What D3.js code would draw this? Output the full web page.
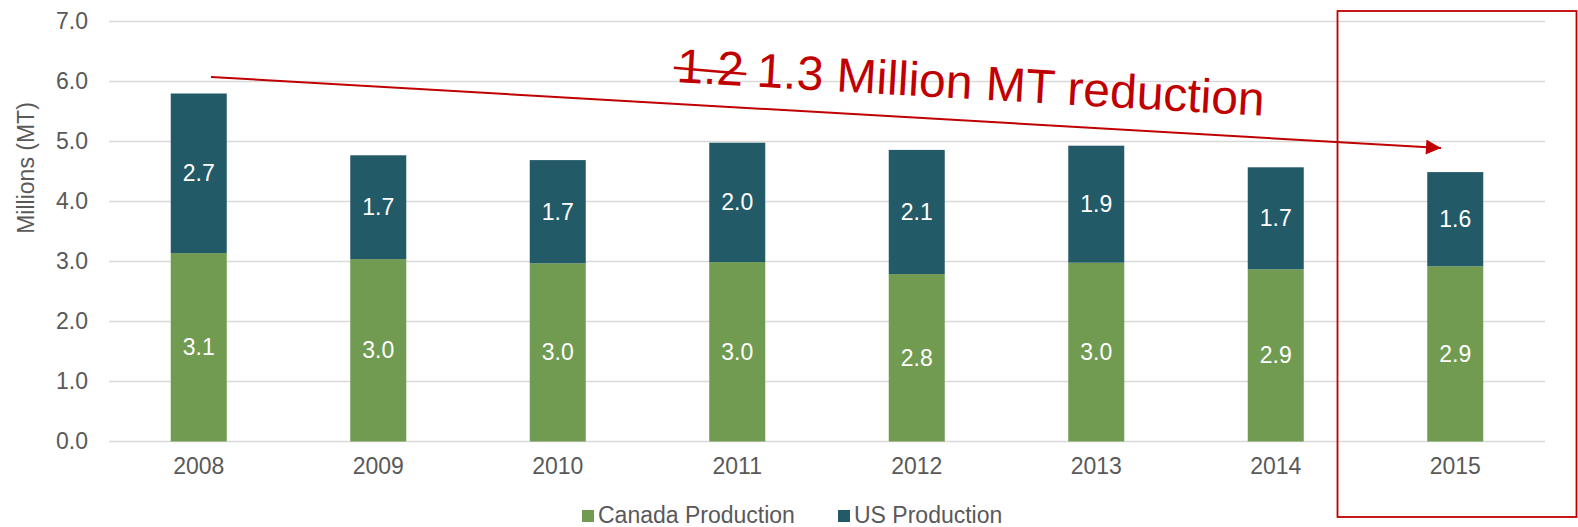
<!DOCTYPE html>
<html>
<head>
<meta charset="utf-8">
<script src="https://cdn.jsdelivr.net/npm/d3@7"></script>
<style>
  html, body { margin: 0; padding: 0; background: #fff; }
  svg { display: block; font-family: "Liberation Sans", Arial, sans-serif; }
</style>
</head>
<body>
<svg id="chart" width="1578" height="527"></svg>
<script>
// ---- data ----
const years = ["2008", "2009", "2010", "2011", "2012", "2013", "2014", "2015"];
const canada = [3.14, 3.04, 2.97, 2.99, 2.79, 2.98, 2.87, 2.92];
const us = [2.66, 1.73, 1.72, 1.99, 2.07, 1.95, 1.70, 1.57];
const seriesNames = ["Canada Production", "US Production"];
const yTicks = [0, 1, 2, 3, 4, 5, 6, 7];
const annotationOld = "1.2";
const annotationNew = " 1.3 Million MT reduction";
const yTitle = "Millions (MT)";

// ---- styles ----
const colors = { canada: "#709B51", us: "#225A68" };
const red = "#C00000";
const gray = "#595959";

const svg = d3.select("#chart");

const x = d3.scaleBand().domain(years).range([109, 1545]).paddingInner(0.688).paddingOuter(0.344);
const y = d3.scaleLinear().domain([0, 7]).range([441.5, 21.5]);

// gridlines
svg.append("g").selectAll("line").data(yTicks).join("line")
  .attr("x1", 109).attr("x2", 1545)
  .attr("y1", d => y(d)).attr("y2", d => y(d))
  .attr("stroke", "#D9D9D9").attr("stroke-width", 1.5);

// y axis tick labels
const yAxis = d3.axisLeft(y).tickValues(yTicks).tickFormat(d3.format(".1f")).tickSize(0).tickPadding(0);
const gy = svg.append("g").attr("transform", "translate(88,0)").call(yAxis);
gy.select(".domain").remove();
gy.selectAll("text").attr("font-size", 23).attr("fill", gray)
  .attr("font-family", "Liberation Sans, Arial, sans-serif");

// x axis labels
const xAxis = d3.axisBottom(x).tickSize(0).tickPadding(0);
const gx = svg.append("g").attr("transform", "translate(0,458)").call(xAxis);
gx.select(".domain").remove();
gx.selectAll("text").attr("font-size", 23).attr("fill", gray)
  .attr("font-family", "Liberation Sans, Arial, sans-serif");

// y title
svg.append("text")
  .attr("transform", "translate(34,168) rotate(-90)")
  .attr("text-anchor", "middle")
  .attr("font-size", 23).attr("fill", gray)
  .text(yTitle);

// stacked bars
const rows = years.map((yr, i) => ({ year: yr, canada: canada[i], us: us[i] }));
const stack = d3.stack().keys(["canada", "us"])(rows);
const layers = svg.append("g").selectAll("g").data(stack).join("g")
  .attr("fill", d => colors[d.key]);
layers.selectAll("rect").data(d => d).join("rect")
  .attr("x", d => x(d.data.year))
  .attr("width", x.bandwidth())
  .attr("y", d => y(d[1]))
  .attr("height", d => y(d[0]) - y(d[1]));

// data labels
const lbl = svg.append("g");
stack.forEach(layer => {
  lbl.selectAll(null).data(layer).join("text")
    .attr("x", d => x(d.data.year) + x.bandwidth() / 2)
    .attr("y", d => (y(d[0]) + y(d[1])) / 2)
    .attr("dy", "0.35em")
    .attr("text-anchor", "middle")
    .attr("font-size", 23).attr("fill", "#fff")
    .text(d => (d[1] - d[0]).toFixed(1));
});

// legend
const legendItems = [
  { name: seriesNames[0], color: colors.canada, x: 582 },
  { name: seriesNames[1], color: colors.us, x: 838 }
];
const lg = svg.append("g");
legendItems.forEach(it => {
  lg.append("rect").attr("x", it.x).attr("y", 510).attr("width", 12).attr("height", 12).attr("fill", it.color);
  lg.append("text").attr("x", it.x + 16).attr("y", 523).attr("font-size", 23).attr("fill", gray).text(it.name);
});

// red box around 2015
svg.append("rect")
  .attr("x", 1337.5).attr("y", 11).attr("width", 239).attr("height", 506)
  .attr("fill", "none").attr("stroke", red).attr("stroke-width", 1.8);

// arrow
const defs = svg.append("defs");
defs.append("marker").attr("id", "arr")
  .attr("viewBox", "0 0 10 10").attr("refX", 10).attr("refY", 5)
  .attr("markerWidth", 8).attr("markerHeight", 7.5).attr("orient", "auto")
  .attr("markerUnits", "strokeWidth")
  .append("path").attr("d", "M0,0 L10,5 L0,10 Z").attr("fill", red);
svg.append("line")
  .attr("x1", 211).attr("y1", 77).attr("x2", 1441).attr("y2", 148)
  .attr("stroke", red).attr("stroke-width", 2).attr("marker-end", "url(#arr)");

// annotation text
const ang = 3.3;
const ag = svg.append("g").attr("transform", `translate(676,82) rotate(${ang})`);
const at = ag.append("text").attr("x", 0).attr("y", 0)
  .attr("font-size", 48).attr("fill", red);
at.append("tspan").text(annotationOld);
at.append("tspan").text(annotationNew);
const oldW = at.node().getSubStringLength(0, annotationOld.length);
ag.append("line").attr("x1", -3).attr("x2", oldW + 3)
  .attr("y1", -14).attr("y2", -12)
  .attr("stroke", red).attr("stroke-width", 2.5);
</script>
</body>
</html>
